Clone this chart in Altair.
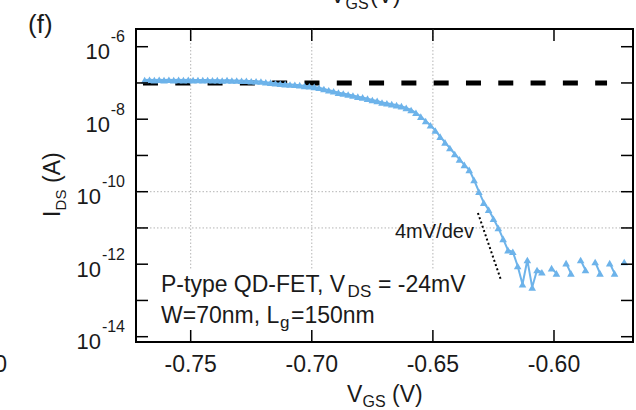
import altair as alt
import pandas as pd

# ---------------- data ----------------
vgs = [-0.769, -0.767, -0.765, -0.763, -0.761, -0.759, -0.757, -0.755, -0.753, -0.751,
       -0.749, -0.747, -0.745, -0.743, -0.741, -0.739, -0.737, -0.735, -0.733, -0.731,
       -0.729, -0.727, -0.725, -0.723, -0.721, -0.719, -0.717, -0.715, -0.713, -0.711,
       -0.709, -0.707, -0.705, -0.703, -0.701, -0.699, -0.697, -0.695, -0.693, -0.691,
       -0.689, -0.687, -0.685, -0.683, -0.681, -0.679, -0.677, -0.675, -0.673, -0.671,
       -0.669, -0.667, -0.665, -0.663, -0.661, -0.659, -0.657, -0.655, -0.653, -0.651,
       -0.649, -0.647, -0.645, -0.643, -0.641, -0.639, -0.637, -0.635, -0.633, -0.631,
       -0.629, -0.627, -0.625, -0.623, -0.621, -0.619, -0.617, -0.615, -0.613, -0.611,
       -0.609, -0.607, -0.605, -0.603, -0.601, -0.599, -0.597, -0.595, -0.593, -0.591,
       -0.589, -0.587, -0.585, -0.583, -0.581, -0.579, -0.577, -0.575, -0.573, -0.571]

ids = [1.20e-7, 1.23e-7, 1.20e-7, 1.23e-7, 1.20e-7, 1.23e-7, 1.20e-7, 1.22e-7, 1.20e-7, 1.22e-7,
       1.20e-7, 1.21e-7, 1.20e-7, 1.21e-7, 1.19e-7, 1.20e-7, 1.17e-7, 1.20e-7, 1.17e-7, 1.17e-7,
       1.15e-7, 1.15e-7, 1.12e-7, 1.12e-7, 1.10e-7, 1.05e-7, 1.02e-7, 9.8e-8, 9.5e-8, 9.3e-8,
       9.1e-8, 8.9e-8, 8.7e-8, 8.3e-8, 8.1e-8, 7.8e-8, 7.4e-8, 6.8e-8, 6.3e-8, 5.9e-8,
       5.4e-8, 5.1e-8, 4.8e-8, 4.5e-8, 4.2e-8, 4.0e-8, 3.7e-8, 3.4e-8, 3.2e-8, 2.9e-8,
       2.75e-8, 2.6e-8, 2.45e-8, 2.3e-8, 2.05e-8, 1.8e-8, 1.5e-8, 1.18e-8, 8.9e-9, 6.8e-9,
       4.9e-9, 3.3e-9, 2.3e-9, 1.6e-9, 1.1e-9, 7.8e-10, 5.5e-10, 4.0e-10, 2.1e-10, 1.0e-10,
       5.0e-11, 3.2e-11, 1.8e-11, 1.0e-11, 5.0e-12, 2.45e-12, 2.2e-12, 8.9e-13, 2.8e-13, 1.3e-12,
       2.3e-13, 6.9e-13, 6.0e-13, None, 7.8e-13, 5.6e-13, None, 1.07e-12, 5.6e-13, None,
       1.3e-12, 6.9e-13, None, 1.15e-12, 5.6e-13, None, 1.07e-12, 5.6e-13, None, 1.15e-12]

ref_level = [1e-7]                 # dashed horizontal level
ref_span = [-0.7697, -0.5781]
slope_v = [-0.6314, -0.6219]       # 4 mV/dec guide
slope_i = [2.58e-11, 3.66e-13]

x_tick_values = [-0.75, -0.70, -0.65, -0.60]
x_tick_labels = ["-0.75", "-0.70", "-0.65", "-0.60"]
y_major_exps = [-6, -8, -10, -12, -14]
y_minor_exps = [-7, -9, -11, -13]
grid_x = [-0.75, -0.70, -0.65]
grid_y = [1e-10, 1e-11]

X_DOMAIN = [-0.77258, -0.56738]
Y_DOMAIN = [7.14e-15, 3.08e-6]

W, H = 497, 313
BLUE = "#6db3ea"
FONT = "Liberation Sans"
INK = "#1a1a1a"

xs = alt.Scale(domain=X_DOMAIN, zero=False, nice=False)
ys = alt.Scale(type="log", domain=Y_DOMAIN, nice=False)


def X(f):
    return alt.X(f, type="quantitative", scale=xs, axis=None)


def Y(f):
    return alt.Y(f, type="quantitative", scale=ys, axis=None)


# data table with segments broken at missing points
rows = []
seg = 0
for v, i in zip(vgs, ids):
    if i is None:
        seg += 1
        continue
    rows.append({"v": v, "i": i, "seg": seg})
df = pd.DataFrame(rows)

layers = []

# grid
vg = pd.DataFrame({"v": grid_x, "top": [Y_DOMAIN[1]] * len(grid_x), "bot": [6.9e-13] * len(grid_x)})
layers.append(alt.Chart(vg).mark_rule(color="#b4b4b4", strokeWidth=1, strokeDash=[1.5, 2]).encode(
    x=X("v"), y=Y("top"), y2="bot"))
hg = pd.DataFrame({"val": grid_y})
layers.append(alt.Chart(hg).mark_rule(color="#b4b4b4", strokeWidth=1, strokeDash=[1.5, 2]).encode(
    y=Y("val"), x=alt.value(0), x2=alt.value(W)))

# dashed reference line
rl = pd.DataFrame({"x0": [ref_span[0]], "x1": [ref_span[1]], "y": ref_level})
layers.append(alt.Chart(rl).mark_rule(color="black", strokeWidth=5, strokeDash=[15, 17.3]).encode(
    x=X("x0"), x2="x1", y=Y("y")))

# data
layers.append(alt.Chart(df).mark_line(color=BLUE, strokeWidth=2).encode(
    x=X("v"), y=Y("i"), detail="seg:N"))
layers.append(alt.Chart(df).mark_point(shape="triangle-up", filled=True, size=58, color=BLUE, opacity=1).encode(
    x=X("v"), y=Y("i")))

# slope guide
sl = pd.DataFrame({"v": slope_v, "i": slope_i})
layers.append(alt.Chart(sl).mark_line(color="black", strokeWidth=2, strokeDash=[2, 2.5]).encode(
    x=X("v"), y=Y("i")))

# ticks (inward)
xt = pd.DataFrame({"v": x_tick_values, "lab": x_tick_labels})
layers.append(alt.Chart(xt).mark_rule(color="black", strokeWidth=1.5).encode(
    x=X("v"), y=alt.value(H), y2=alt.value(H - 12)))
layers.append(alt.Chart(xt).mark_rule(color="black", strokeWidth=1.5).encode(
    x=X("v"), y=alt.value(0), y2=alt.value(12)))
yt = pd.DataFrame({"e": y_major_exps + y_minor_exps})
ytc = alt.Chart(yt).transform_calculate(val="pow(10, datum.e)")
layers.append(ytc.mark_rule(color="black", strokeWidth=1.5).encode(
    y=Y("val:Q"), x=alt.value(0), x2=alt.value(12)))
layers.append(ytc.mark_rule(color="black", strokeWidth=1.5).encode(
    y=Y("val:Q"), x=alt.value(W), x2=alt.value(W - 12)))

# x tick labels
layers.append(alt.Chart(xt).mark_text(font=FONT, fontSize=23, align="center", baseline="alphabetic", color=INK).encode(
    x=X("v"), y=alt.value(H + 30), text="lab:N"))

# y tick labels: "10" + superscript exponent
ym = pd.DataFrame({"e": y_major_exps})
ymc = alt.Chart(ym).transform_calculate(val="pow(10, datum.e)", sup="'' + datum.e", base="'10'")
layers.append(ymc.mark_text(font=FONT, fontSize=16, align="right", baseline="alphabetic", dy=-4.5, color=INK).encode(
    y=Y("val:Q"), x=alt.value(-11), text="sup:N"))
layers.append(ymc.transform_filter("datum.e > -10").mark_text(
    font=FONT, fontSize=22, align="right", baseline="alphabetic", dy=12.5, color=INK).encode(
    y=Y("val:Q"), x=alt.value(-26), text="base:N"))
layers.append(ymc.transform_filter("datum.e <= -10").mark_text(
    font=FONT, fontSize=22, align="right", baseline="alphabetic", dy=12.5, color=INK).encode(
    y=Y("val:Q"), x=alt.value(-35), text="base:N"))


def lbl(text, x, y, size, align="left", angle=0, dx=0, dy=0):
    return alt.Chart(pd.DataFrame({"t": [text]})).mark_text(
        font=FONT, fontSize=size, align=align, baseline="alphabetic", angle=angle,
        dx=dx, dy=dy, color=INK).encode(x=alt.value(x), y=alt.value(y), text="t:N")


# axis titles
layers += [
    lbl("V", 211, H + 60, 23),
    lbl("GS", 226.5, H + 65, 16),
    lbl("(V)", 256, H + 60, 23),
]
layers += [
    lbl("I", -76, 188, 23, angle=270, dx=0),
    lbl("DS", -76, 188, 15, angle=270, dx=6.6, dy=6),
    lbl("(A)", -76, 188, 23, angle=270, dx=34),
]

# annotations
layers += [
    lbl("P-type QD-FET, V", 25, 263, 23),
    lbl("DS", 211.6, 268, 17),
    lbl("= -24mV", 242, 263, 23),
    lbl("W=70nm, L", 25, 294, 23),
    lbl("g", 144, 299, 17),
    lbl("=150nm", 155, 294, 23),
    lbl("4mV/dev", 259, 209, 20),
]

# panel letter and cropped neighbour text
layers += [
    lbl("(f)", -108, 4, 26),
    lbl("V", 194, -26, 23),
    lbl("GS", 209.5, -20.5, 16),
    lbl("(V)", 234, -26, 23),
    lbl("0", -129, H + 30, 23, align="right"),
]

chart = alt.layer(*layers).properties(
    width=W, height=H,
    padding={"left": 136, "top": 29, "right": 3, "bottom": 68},
    autosize=alt.AutoSizeParams(type="none"),
    background="white",
).configure_view(stroke="black", strokeWidth=2)

chart.save("out.html", embed_options={"renderer": "svg", "actions": False})
